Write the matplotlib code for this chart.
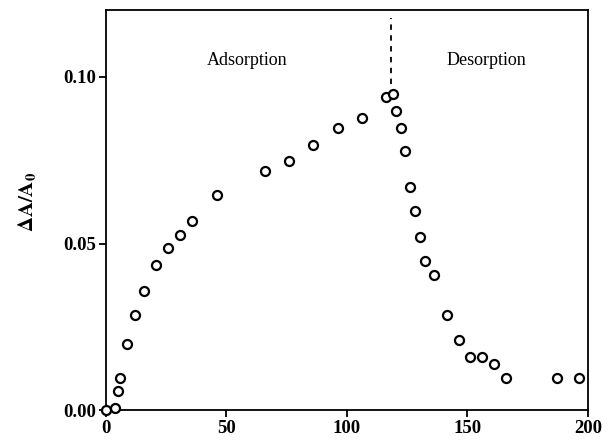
import numpy as np
import matplotlib.pyplot as plt

# Tempo (x) e variação relativa de absorbância (y)
tempo = [0, 3.9, 5.1, 6.1, 9.0, 12.0, 15.9, 20.9, 26.0, 31.0, 35.8, 46.1,
         66.1, 76.1, 86.1, 96.3, 106.4, 116.3, 119.3, 120.3, 122.4, 124.3,
         126.3, 128.3, 130.4, 132.2, 136.3, 141.5, 146.3, 151.2, 156.2,
         161.2, 166.0, 187.1, 196.4]
delta_a = [0.000, 0.0007, 0.0058, 0.0098, 0.0198, 0.0287, 0.0357, 0.0436,
           0.0488, 0.0527, 0.0567, 0.0647, 0.0719, 0.0749, 0.0797, 0.0848,
           0.0878, 0.0940, 0.0950, 0.0898, 0.0848, 0.0778, 0.0669, 0.0597,
           0.0519, 0.0447, 0.0407, 0.0287, 0.0210, 0.0160, 0.0160, 0.0140,
           0.0098, 0.0098, 0.0098]

x_troca = 118.5
xticks = [0, 50, 100, 150, 200]
yticks = [0.00, 0.05, 0.10]

plt.rcParams['font.family'] = ['Liberation Serif', 'DejaVu Serif']
plt.rcParams['mathtext.fontset'] = 'stix'

fig = plt.figure(figsize=(6.16, 4.41), dpi=100)
ax = fig.add_axes([0.1716, 0.0692, 0.783, 0.9078])

ax.plot(tempo, delta_a, 'o', mfc='white', mec='black', ms=6.5, mew=1.6,
        clip_on=False, zorder=3)
ax.plot([x_troca, x_troca], [0.098, 0.1175], '--', color='black', lw=1.3,
        dashes=(3, 3))

ax.text(58.5, 0.1048, 'Adsorption', ha='center', va='center', fontsize=13)
ax.text(157.8, 0.1048, 'Desorption', ha='center', va='center', fontsize=13)

ax.set_xlim(0, 200)
ax.set_ylim(0, 0.12)
ax.set_xticks(xticks)
ax.set_yticks(yticks)
ax.set_xticklabels([str(t) for t in xticks], fontweight='bold', fontsize=13.5)
ax.set_yticklabels([f'{t:.2f}' for t in yticks], fontweight='bold', fontsize=13.5)
ax.tick_params(direction='out', length=5, width=1.3, pad=2)
for s in ax.spines.values():
    s.set_linewidth(1.3)

ax.set_ylabel(r'$\mathbf{\Delta A/A_0}$', fontsize=15)
ax.yaxis.set_label_coords(-0.14, 0.52)

fig.savefig('out.png', dpi=100)
